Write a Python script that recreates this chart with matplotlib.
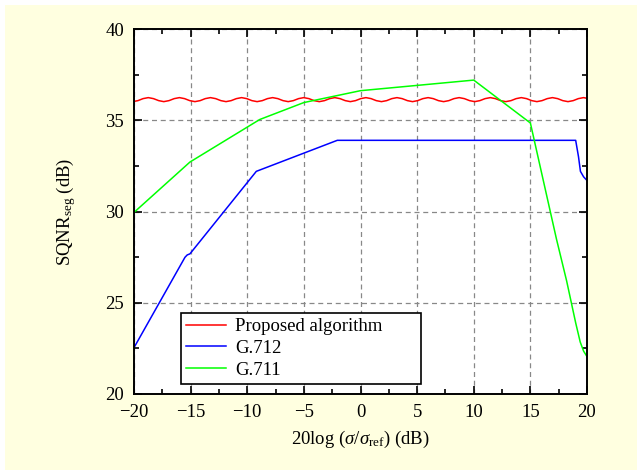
import numpy as np
import matplotlib
matplotlib.use('Agg')
import matplotlib.pyplot as plt
from matplotlib.patches import Rectangle
from matplotlib.ticker import MultipleLocator

plt.rcParams['font.family'] = 'serif'
plt.rcParams['font.serif'] = ['Liberation Serif', 'DejaVu Serif']
plt.rcParams['mathtext.fontset'] = 'custom'
plt.rcParams['mathtext.rm'] = 'Liberation Serif'
plt.rcParams['mathtext.it'] = 'Liberation Serif:italic'
plt.rcParams['font.size'] = 13.5

# Proposed algorithm (ripple around 36.1 dB)
x_prop = [-20.11, -19.65, -19.20, -18.74, -18.28, -17.82,
          -17.37, -16.91, -16.45, -15.99, -15.535, -15.08,
          -14.62, -14.16, -13.71, -13.25, -12.79, -12.33,
          -11.875, -11.42, -10.96, -10.50, -10.045, -9.59,
          -9.13, -8.67, -8.215, -7.76, -7.30, -6.84,
          -6.385, -5.93, -5.47, -5.01, -4.555, -4.10,
          -3.64, -3.18, -2.725, -2.27, -1.81, -1.35,
          -0.895, -0.44, 0.02, 0.48, 0.935, 1.39,
          1.85, 2.31, 2.765, 3.22, 3.68, 4.14,
          4.595, 5.05, 5.51, 5.97, 6.425, 6.88,
          7.34, 7.80, 8.255, 8.71, 9.17, 9.63,
          10.085, 10.54, 11.00, 11.46, 11.915, 12.37,
          12.83, 13.29, 13.745, 14.20, 14.66, 15.12,
          15.575, 16.03, 16.49, 16.95, 17.405, 17.86,
          18.32, 18.78, 19.235, 19.69, 20.15]
y_prop = [36.02, 36.075, 36.185, 36.24, 36.185, 36.075,
          36.02, 36.075, 36.185, 36.24, 36.185, 36.075,
          36.02, 36.075, 36.185, 36.24, 36.185, 36.075,
          36.02, 36.075, 36.185, 36.24, 36.185, 36.075,
          36.02, 36.075, 36.185, 36.24, 36.185, 36.075,
          36.02, 36.075, 36.185, 36.24, 36.185, 36.075,
          36.02, 36.075, 36.185, 36.24, 36.185, 36.075,
          36.02, 36.075, 36.185, 36.24, 36.185, 36.075,
          36.02, 36.075, 36.185, 36.24, 36.185, 36.075,
          36.02, 36.075, 36.185, 36.24, 36.185, 36.075,
          36.02, 36.075, 36.185, 36.24, 36.185, 36.075,
          36.02, 36.075, 36.185, 36.24, 36.185, 36.075,
          36.02, 36.075, 36.185, 36.24, 36.185, 36.075,
          36.02, 36.075, 36.185, 36.24, 36.185, 36.075,
          36.02, 36.075, 36.185, 36.24, 36.185]

# G.712
x_g712 = [-20.0, -15.5, -15.3, -15.06, -9.2, -2.05, 19.0, 19.25, 19.42, 19.7, 20.0]
y_g712 = [22.54, 27.49, 27.62, 27.68, 32.2, 33.9, 33.9, 33.0, 32.2, 31.9, 31.7]

# G.711
x_g711 = [-20.0, -15.06, -8.9, -5.0, 0.0, 10.0, 15.0, 17.3, 18.2, 19.0, 19.4, 19.7, 20.0]
y_g711 = [29.95, 32.71, 35.04, 35.97, 36.62, 37.2, 34.85, 28.5, 26.2, 23.9, 22.85, 22.35, 22.05]

fig = plt.figure(figsize=(6.37, 4.70), dpi=100, facecolor='white')
fig.patches.append(Rectangle((5 / 637, 0), 1, 1 - 5 / 470, transform=fig.transFigure,
                             facecolor='#FFFFE0', edgecolor='none', zorder=-1))

ax = fig.add_axes([134 / 637, 1 - 394 / 470, 453 / 637, 365 / 470])
ax.set_facecolor('white')

ax.plot(x_prop, y_prop, color='#FF0000', lw=1.1, label='Proposed algorithm')
ax.plot(x_g712, y_g712, color='#0000FF', lw=1.1, label='G.712')
ax.plot(x_g711, y_g711, color='#00FF00', lw=1.1, label='G.711')

ax.set_xlim(-20, 20)
ax.set_ylim(20, 40)
ax.xaxis.set_major_locator(MultipleLocator(5))
ax.xaxis.set_minor_locator(MultipleLocator(2.5))
ax.yaxis.set_major_locator(MultipleLocator(5))
ax.yaxis.set_minor_locator(MultipleLocator(2.5))
ax.tick_params(which='both', direction='in', top=True, right=True, width=1.2)
ax.tick_params(which='major', length=6, pad=7)
ax.tick_params(which='minor', length=3.5)
for s in ax.spines.values():
    s.set_linewidth(1.4)

ax.grid(True, which='major', color='#888888', linestyle=(0, (4, 3)), linewidth=0.9)

ax.set_xlabel(r'20log ($\sigma$/$\sigma_{\mathrm{ref}}$) (dB)', labelpad=6)
ax.set_ylabel(r'SQNR$_{\mathrm{seg}}$ (dB)', labelpad=20)

leg = ax.legend(loc='lower left', bbox_to_anchor=(0.103, 0.027, 0.53, 0.2), mode='expand',
                fancybox=False, framealpha=1, edgecolor='black', handlelength=2.1,
                handletextpad=0.5, borderpad=0.3, labelspacing=0.24, borderaxespad=0)
leg.get_frame().set_linewidth(1.2)

fig.savefig('out.png', dpi=100, facecolor=fig.get_facecolor())
